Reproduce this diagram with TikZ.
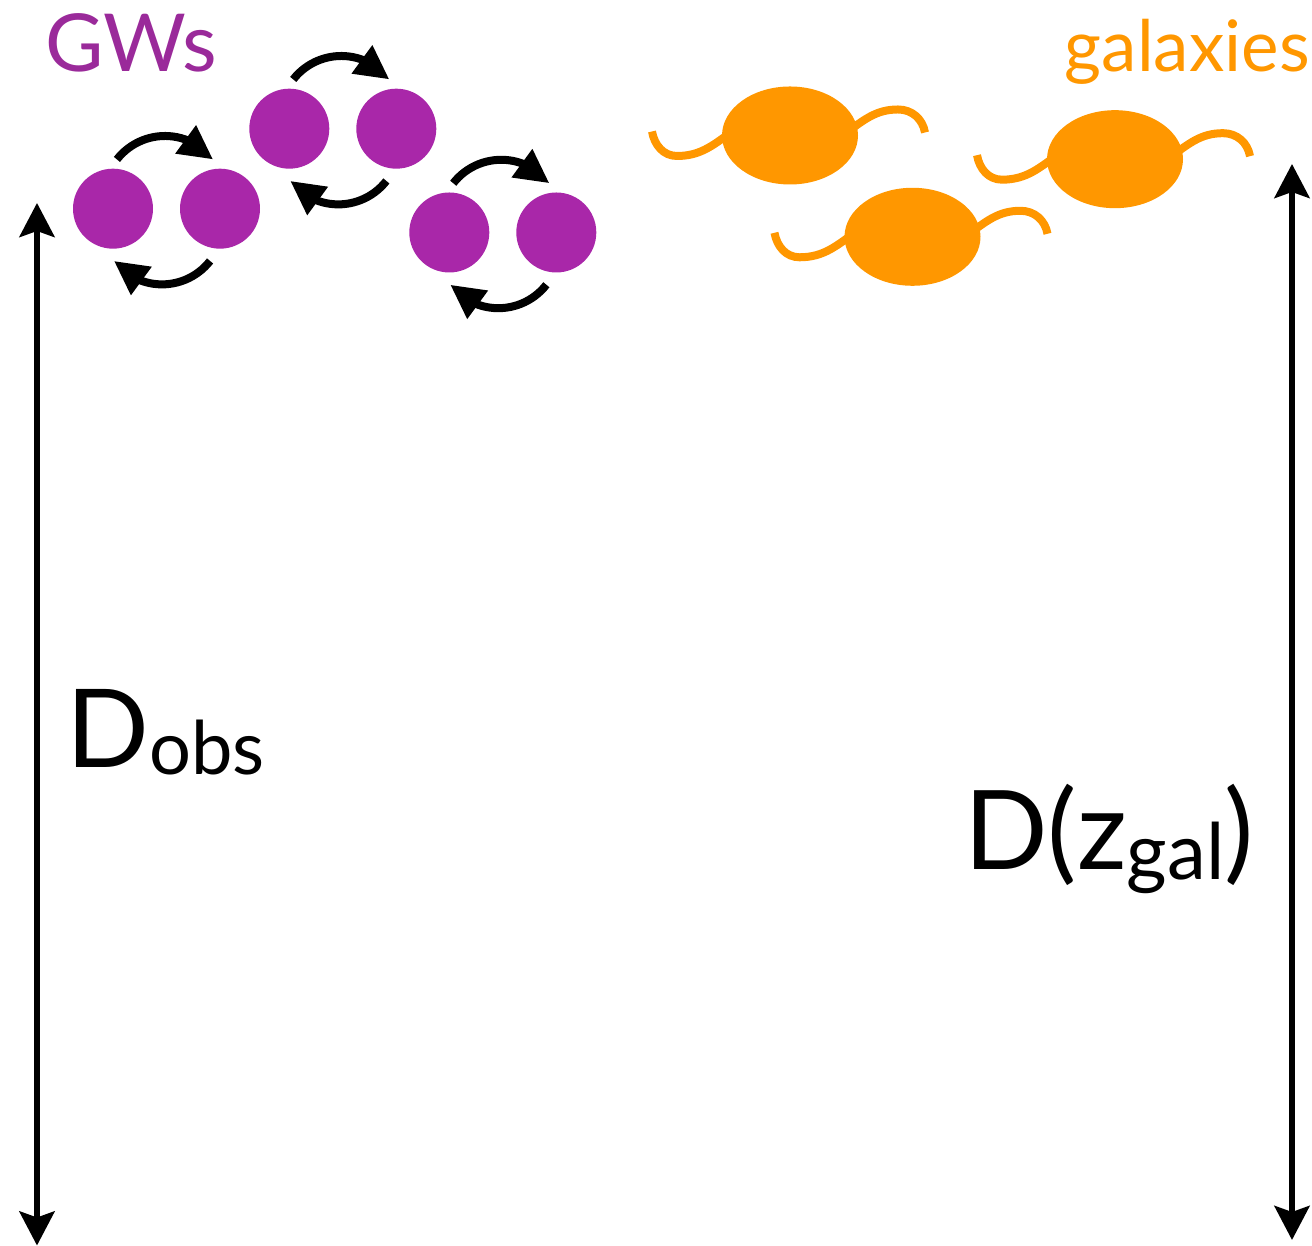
\documentclass[tikz,border=0pt]{standalone}
\usepackage{fontspec}
\setmainfont{Lato}
\usetikzlibrary{arrows.meta,bending,shapes.geometric,calc}

\definecolor{bhpurple}{HTML}{A927A9}
\definecolor{gwtext}{HTML}{9A2A9A}
\definecolor{galorange}{HTML}{FF9700}

\tikzset{
  bh/.style={circle,fill=bhpurple,draw=none,minimum size=80pt,inner sep=0pt},
  orbit/.style={line width=8pt,-{Triangle[length=34pt,width=33pt,flex]}},
  galbody/.style={ellipse,fill=galorange,draw=none,minimum width=136pt,minimum height=98pt,inner sep=0pt},
  galtail/.style={draw=galorange,line width=8pt},
  distarrow/.style={line width=6pt,{Stealth[length=34pt,width=35pt,inset=6pt]}-{Stealth[length=34pt,width=35pt,inset=6pt]}},
  % a binary: two dots with two curved arrows showing the orbit
  binary/.pic={
    \node[bh] (-l) at (0,0) {};
    \node[bh] (-r) at (107,0) {};
    \draw[orbit] ($(52,11.7)+(142:61)$) arc[start angle=142,end angle=38,radius=61];
    \draw[orbit] ($(49,-14.7)+(-38:61)$) arc[start angle=-38,end angle=-142,radius=61];
  },
  % a galaxy: filled ellipse with two wavy arms
  galaxy/.pic={
    \draw[galtail] (-55,6) to[out=215,in=0] (-113,-20.5) to[out=180,in=-80] (-138,4);
    \draw[galtail] (55,2) to[out=35,in=180] (108,26) to[out=0,in=100] (135,3);
    \node[galbody] (-body) at (0,0) {};
  }
}

\begin{document}
\begin{tikzpicture}[x=1pt,y=1pt]
\useasboundingbox (0,0) rectangle (1312,1246);

% labels
\node[anchor=base west,inner sep=0pt,text=gwtext,font=\fontsize{80}{86}\selectfont] (gwlabel) at (45,1174) {GWs};
\node[anchor=base east,inner sep=0pt,text=galorange,font=\fontsize{71}{76}\selectfont] (gallabel) at (1310,1174) {galaxies};

% binaries
\pic (b1) at (113,1037.3) {binary};
\pic (b2) at (289.3,1117.3) {binary};
\pic (b3) at (449.3,1013.5) {binary};

% galaxies
\pic (g1) at (790,1110.5) {galaxy};
\pic (g2) at (912.5,1009.2) {galaxy};
\pic (g3) at (1115,1086.8) {galaxy};

% distance arrows
\coordinate (dobstop) at (37,1043);
\coordinate (dobsbot) at (37,0.5);
\draw[distarrow] (dobstop) -- (dobsbot);
\coordinate (dgaltop) at (1292,1082);
\coordinate (dgalbot) at (1292,6);
\draw[distarrow] (dgaltop) -- (dgalbot);

% distance labels
\node[anchor=base west,inner sep=0pt,font=\fontsize{109}{120}\selectfont] (dobs) at (66,478)
  {D\raisebox{-7pt}{\fontsize{74}{80}\selectfont obs}};
\node[anchor=base west,inner sep=0pt,font=\fontsize{110}{120}\selectfont] (dgal) at (964,376)
  {D(z\raisebox{-10pt}{\fontsize{78}{84}\selectfont gal})};
\end{tikzpicture}
\end{document}
